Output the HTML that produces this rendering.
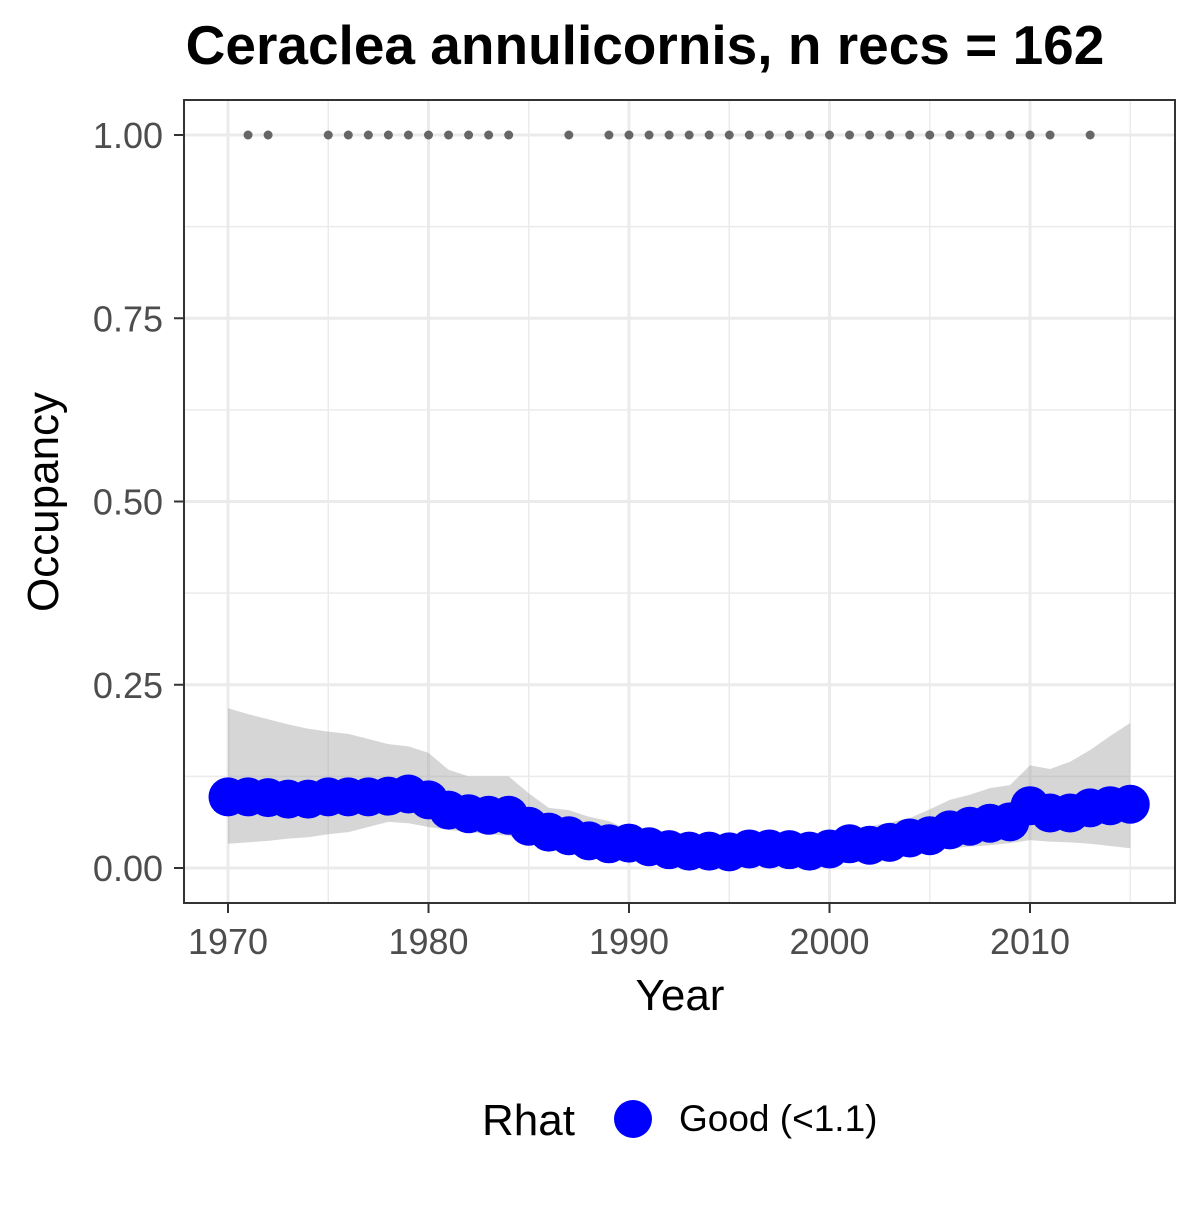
<!DOCTYPE html>
<html><head><meta charset="utf-8"><style>
body{margin:0;background:#fff;}
svg text{font-family:"Liberation Sans",Arial,sans-serif;}
</style></head><body>
<svg id="chart" width="1200" height="1200" viewBox="0 0 1200 1200" xmlns="http://www.w3.org/2000/svg">
<rect width="1200" height="1200" fill="#fff"/>
<text x="645" y="64" text-anchor="middle" font-size="55" font-weight="bold">Ceraclea annulicornis, n recs = 162</text>
<g id="grid"></g>
<g id="band"></g>
<g id="recs"></g>
<g id="pts"></g>
<rect x="184" y="100" width="991" height="803" fill="none" stroke="#333" stroke-width="2"/>
<g id="axes"></g>
<text x="680" y="1010" text-anchor="middle" font-size="44">Year</text>
<text transform="translate(58,502) rotate(-90)" text-anchor="middle" font-size="44">Occupancy</text>
<g>
<text x="482" y="1135" font-size="44">Rhat</text>
<circle cx="633" cy="1119" r="19" fill="#0000ff"/>
<text x="679" y="1131" font-size="37">Good (&lt;1.1)</text>
</g>
</svg>
<script>
const years=[1970,1971,1972,1973,1974,1975,1976,1977,1978,1979,1980,1981,1982,1983,1984,1985,1986,1987,1988,1989,1990,1991,1992,1993,1994,1995,1996,1997,1998,1999,2000,2001,2002,2003,2004,2005,2006,2007,2008,2009,2010,2011,2012,2013,2014,2015];
const occ=[0.097,0.097,0.096,0.094,0.094,0.097,0.097,0.097,0.098,0.101,0.093,0.079,0.074,0.072,0.072,0.057,0.049,0.044,0.037,0.033,0.034,0.029,0.025,0.023,0.023,0.022,0.026,0.026,0.025,0.023,0.026,0.033,0.031,0.035,0.041,0.044,0.052,0.057,0.061,0.063,0.085,0.075,0.075,0.082,0.085,0.087];
const upper=[0.218,0.21,0.203,0.196,0.19,0.186,0.183,0.176,0.169,0.166,0.157,0.134,0.125,0.125,0.125,0.102,0.082,0.079,0.07,0.064,0.052,0.045,0.038,0.036,0.035,0.035,0.034,0.035,0.037,0.04,0.044,0.05,0.057,0.062,0.068,0.08,0.093,0.1,0.109,0.113,0.14,0.135,0.145,0.161,0.18,0.198];
const lower=[0.033,0.035,0.037,0.04,0.042,0.046,0.049,0.056,0.063,0.061,0.056,0.052,0.049,0.046,0.044,0.038,0.027,0.023,0.02,0.017,0.014,0.012,0.011,0.01,0.009,0.008,0.009,0.009,0.01,0.01,0.011,0.013,0.015,0.017,0.02,0.023,0.027,0.029,0.031,0.034,0.038,0.036,0.035,0.033,0.03,0.027];
const recYears=[1971,1972,1975,1976,1977,1978,1979,1980,1981,1982,1983,1984,1987,1989,1990,1991,1992,1993,1994,1995,1996,1997,1998,1999,2000,2001,2002,2003,2004,2005,2006,2007,2008,2009,2010,2011,2013];
const xTicks=[1970,1980,1990,2000,2010];
const yTicks=[0,0.25,0.5,0.75,1];
const yTickLabels=["0.00","0.25","0.50","0.75","1.00"];
const NS="http://www.w3.org/2000/svg";
const X=y=>228+(y-1970)*20.05;
const Y=v=>868-v*733;
function mk(tag,attrs,parent){const e=document.createElementNS(NS,tag);for(const k in attrs)e.setAttribute(k,attrs[k]);parent.appendChild(e);return e;}
const grid=document.getElementById('grid');
[1975,1985,1995,2005,2015].forEach(t=>{const l=mk('line',{x1:X(t),x2:X(t),y1:100,y2:903,stroke:'#ebebeb','stroke-width':1.5},grid);

});
[0.125,0.375,0.625,0.875].forEach(t=>{const l=mk('line',{x1:184,x2:1175,y1:Y(t),y2:Y(t),stroke:'#ebebeb','stroke-width':1.5},grid);

});
xTicks.forEach(t=>{const l=mk('line',{x1:X(t),x2:X(t),y1:100,y2:903,stroke:'#ebebeb','stroke-width':3},grid);

});
yTicks.forEach(t=>{const l=mk('line',{x1:184,x2:1175,y1:Y(t),y2:Y(t),stroke:'#ebebeb','stroke-width':3},grid);

});
let d='';years.forEach((y,i)=>{d+=(i?'L':'M')+X(y)+','+Y(upper[i]);});
for(let i=years.length-1;i>=0;i--)d+='L'+X(years[i])+','+Y(lower[i]);
const band=mk('path',{d:d+'Z',fill:'#999','fill-opacity':0.4},document.getElementById('band'));


recYears.forEach(y=>{const c=mk('circle',{cx:X(y),cy:Y(1),r:4.5,fill:'#666'},document.getElementById('recs'));

});
years.forEach((y,i)=>{const c=mk('circle',{cx:X(y),cy:Y(occ[i]),r:19.5,fill:'#0000ff'},document.getElementById('pts'));

});
const ax=document.getElementById('axes');
xTicks.forEach(t=>{const l=mk('line',{x1:X(t),x2:X(t),y1:903,y2:913,stroke:'#333','stroke-width':2},ax);


const tx=mk('text',{x:X(t),y:954,'text-anchor':'middle','font-size':36,fill:'#4d4d4d'},ax);tx.textContent=t;

});
yTicks.forEach((t,i)=>{const l=mk('line',{x1:174,x2:184,y1:Y(t),y2:Y(t),stroke:'#333','stroke-width':2},ax);


const tx=mk('text',{x:163,y:Y(t)+13,'text-anchor':'end','font-size':36,fill:'#4d4d4d'},ax);tx.textContent=yTickLabels[i];

});
</script>
</body></html>
